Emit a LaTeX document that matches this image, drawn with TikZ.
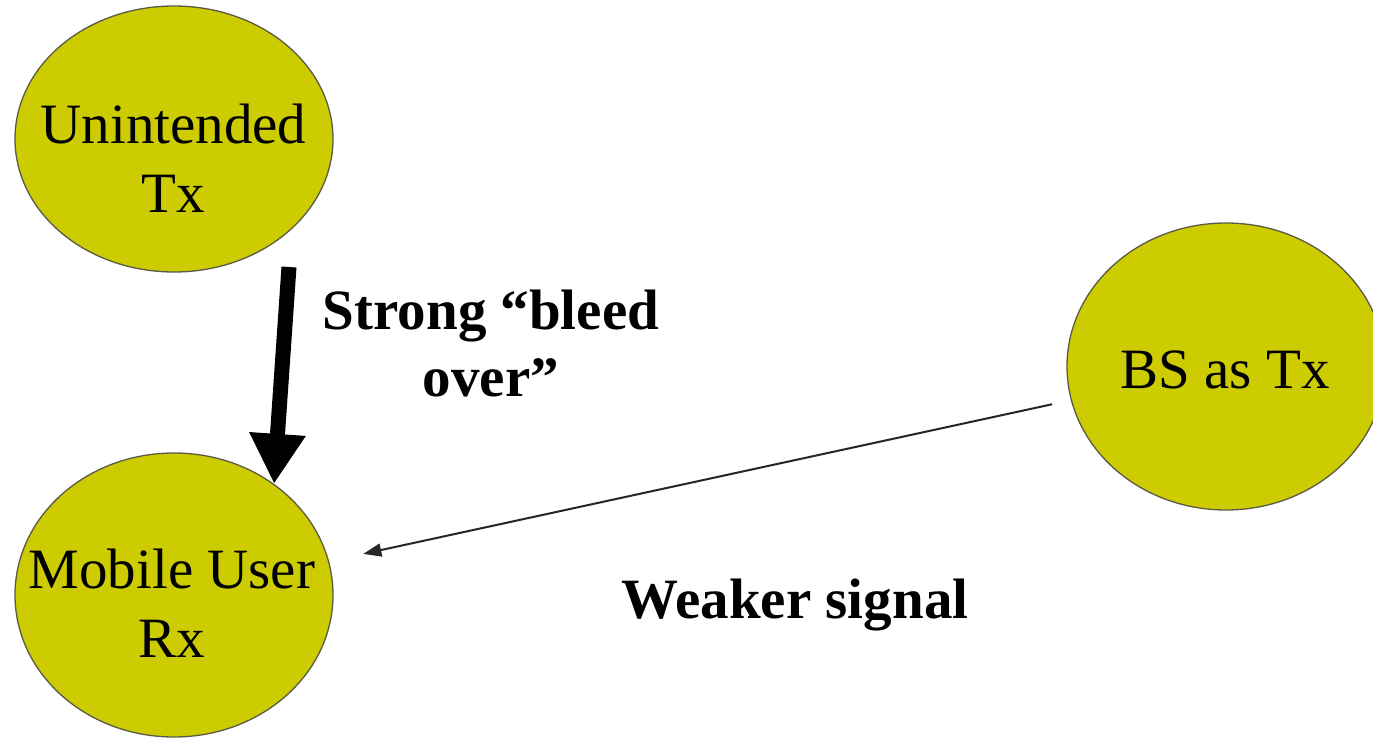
\documentclass[tikz,border=0pt]{standalone}
\usepackage{fontspec}
\setmainfont{Liberation Serif}
\usetikzlibrary{shapes.geometric,arrows.meta}
\definecolor{discfill}{RGB}{204,204,0}
\definecolor{discedge}{RGB}{90,90,70}
\begin{document}
\begin{tikzpicture}[x=1pt,y=-1pt,
  disc/.style={ellipse, draw=discedge, fill=discfill, line width=1.3pt,
    minimum width=318pt, inner sep=0pt},
  disctext/.style={font=\fontsize{57}{69}\selectfont, align=center, inner sep=0pt},
  caption/.style={font=\fontsize{57}{67}\selectfont\bfseries, align=center, inner sep=0pt},
  bleed/.style={line width=15pt, -{Triangle[length=50pt,width=53pt]}},
  weak/.style={line width=2pt, draw=black!85, -{Triangle[length=18pt,width=13pt]}}]
\useasboundingbox (0,0) rectangle (1373,738);
\clip (0,0) rectangle (1373,738);
\fill[white] (0,0) rectangle (1373,738);

% stations
\node[disc, minimum height=266pt] (tx) at (174,139) {};
\node[disc, minimum height=284pt] (rx) at (174,595) {};
\node[disc, minimum height=287pt] (bs) at (1226,366.5) {};

\node[disctext] (txlabel) at (173.5,158) {Unintended\\Tx};
\node[disctext] (rxlabel) at (172,603) {Mobile User\\Rx};
\node[disctext, anchor=base] (bslabel) at (1225,388) {BS as Tx};

% interference and wanted signal
\coordinate (bleedtail) at (289,267);
\draw[bleed] (bleedtail) -- (rx.48.7);
\draw[weak, shorten <=19pt, shorten >=35pt] (bs) -- (rx);

\node[caption] (bleedlabel) at (491,344) {Strong “bleed\\over”};
\node[caption, anchor=base] (weaklabel) at (795,618) {Weaker signal};
\end{tikzpicture}
\end{document}
